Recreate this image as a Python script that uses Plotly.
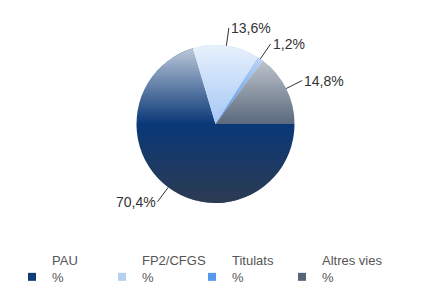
import math
import base64
import plotly.graph_objects as go

# ---- data ----
categories = ["PAU", "FP2/CFGS", "Titulats", "Altres vies"]
legend_units = ["%", "%", "%", "%"]
values = [70.4, 13.6, 1.2, 14.8]
colors = ["#0a3878", "#a4c7f6", "#468ce6", "#5a697d"]
legend_colors = ["#123e78", "#b4cff0", "#5599ec", "#56647a"]

W, H = 429, 306
CX, CY, R = 215.5, 124.0, 79.0  # pie centre / radius in pixels
ROT = 90  # first slice starts at 3 o'clock, clockwise
FONT = "Liberation Sans, Arial, sans-serif"

dom_x = [(CX - R) / W, (CX + R) / W]
dom_y = [1 - (CY + R) / H, 1 - (CY - R) / H]

fig = go.Figure()
fig.add_trace(go.Pie(
    labels=categories,
    values=values,
    sort=False,
    direction="clockwise",
    rotation=ROT,
    marker=dict(colors=colors, line=dict(width=0)),
    textinfo="none",
    hoverinfo="label+percent",
    domain=dict(x=dom_x, y=dom_y),
    showlegend=False,
))

# vertical shading overlay (white at top, grey at bottom)
svg = (
    "<svg xmlns='http://www.w3.org/2000/svg' width='200' height='200' viewBox='0 0 200 200'>"
    "<defs><linearGradient id='g' x1='0' y1='0' x2='0' y2='1'>"
    "<stop offset='0' stop-color='#ffffff' stop-opacity='0.75'/>"
    "<stop offset='0.5' stop-color='#ffffff' stop-opacity='0'/>"
    "<stop offset='0.5' stop-color='#373c44' stop-opacity='0'/>"
    "<stop offset='1' stop-color='#373c44' stop-opacity='0.75'/>"
    "</linearGradient></defs>"
    "<circle cx='100' cy='100' r='100' fill='url(#g)'/></svg>"
)
src = "data:image/svg+xml;base64," + base64.b64encode(svg.encode()).decode()
fig.add_layout_image(dict(
    source=src, xref="paper", yref="paper",
    x=dom_x[0], y=dom_y[1], sizex=dom_x[1] - dom_x[0], sizey=dom_y[1] - dom_y[0],
    xanchor="left", yanchor="top", sizing="stretch", layer="above",
))

# percentage labels with leader lines, derived from the slice angles
total = sum(values)
start = ROT
L = 18
for v in values:
    span = v / total * 360
    mid = math.radians(start + span / 2)
    start += span
    s, c = math.sin(mid), math.cos(mid)
    px, py = CX + R * s, CY - R * c
    fig.add_annotation(
        x=px / W, y=1 - py / H, xref="paper", yref="paper",
        ax=L * s, ay=-L * c,
        text=f"{v:.1f}".replace(".", ",") + "%",
        showarrow=True, arrowhead=0, arrowwidth=1, arrowcolor="#333333",
        standoff=0, startstandoff=0,
        xanchor="left" if s > 0 else "right", yanchor="middle",
        font=dict(size=14, color="#333333", family=FONT),
    )

# legend: one legend per category, evenly spaced along the bottom
legend_layout = {}
for i, (cat, unit, col) in enumerate(zip(categories, legend_units, legend_colors)):
    name = "legend" if i == 0 else f"legend{i + 1}"
    fig.add_trace(go.Scatter(
        x=[None], y=[None], mode="markers", name=f"{cat}<br>{unit}",
        marker=dict(symbol="square", size=8, color=col),
        legend=name, showlegend=True, hoverinfo="skip",
    ))
    legend_layout[name] = dict(
        x=(12 + 90 * i) / W, y=1 - 245 / H, xanchor="left", yanchor="top",
        valign="bottom", bgcolor="rgba(0,0,0,0)",
        font=dict(size=13, color="#555555", family=FONT),
    )

fig.update_layout(
    width=W, height=H,
    margin=dict(l=0, r=0, t=0, b=0),
    paper_bgcolor="white", plot_bgcolor="white",
    font=dict(family=FONT, size=13, color="#555555"),
    showlegend=True,
    xaxis=dict(visible=False), yaxis=dict(visible=False),
    **legend_layout,
)

fig.write_html("out.html")
